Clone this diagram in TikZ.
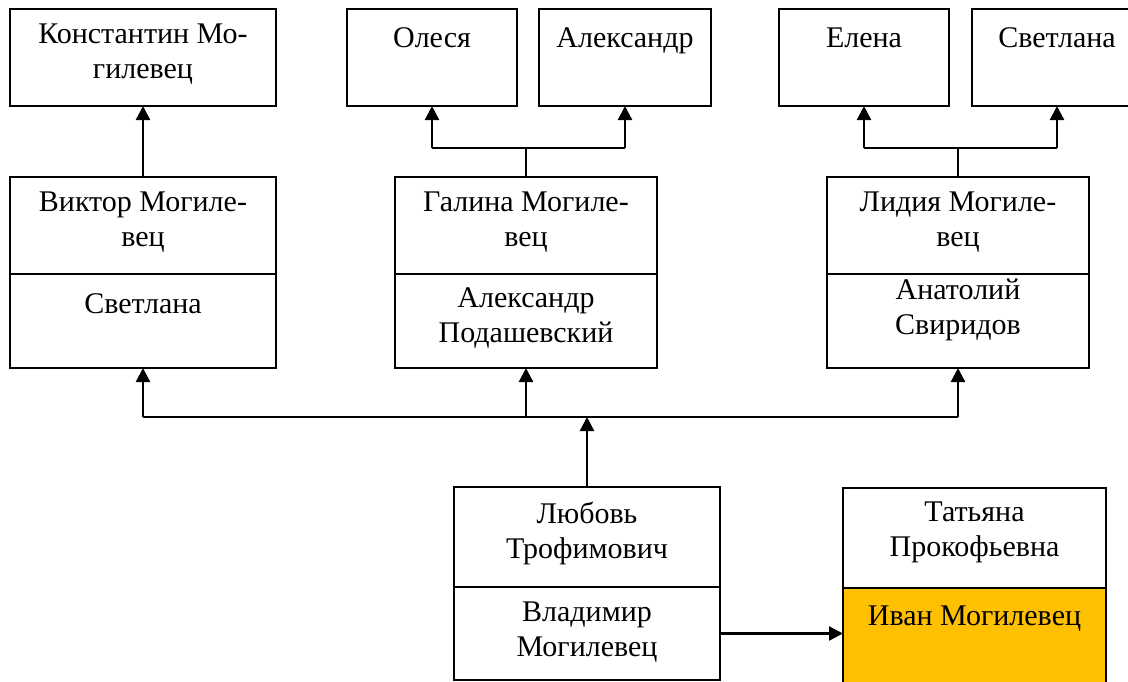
\documentclass[tikz,border=0pt]{standalone}
\usepackage{fontspec}
\setmainfont{Liberation Serif}
\usetikzlibrary{positioning,arrows.meta}
\definecolor{ivanfill}{RGB}{255,192,0}

\tikzset{
  person/.style={draw, line width=2.8pt, outer sep=0pt, inner sep=0pt},
  who/.style={inner sep=0pt, align=center, anchor=north, font=\fontsize{30}{35}\selectfont, execute at begin node=\rule{0pt}{23pt}},
  arrowline/.style={line width=2.3pt},
  joinline/.style={line width=1.8pt}
}

\begin{document}
\begin{tikzpicture}[x=1pt,y=-1pt,>={Triangle[length=14pt,width=14pt]}]
\useasboundingbox (0,0) rectangle (1128,681);

%Kinder oben
\node[person, minimum width=266, minimum height=97] (konst) at (143,57.5) {};
\node[who, below=15pt of konst.north] (konstT) {Константин Мо-\\гилевец};
\node[person, minimum width=170, minimum height=97] (olesya) at (432,57.5) {};
\node[who, below=15pt of olesya.north] (olesyaT) {Олеся};
\node[person, minimum width=172, minimum height=97] (alex) at (625,57.5) {};
\node[who, below=15pt of alex.north] (alexT) {Александр};
\node[person, minimum width=170, minimum height=97] (elena) at (864,57.5) {};
\node[who, below=15pt of elena.north] (elenaT) {Елена};
\node[person, minimum width=170, minimum height=97] (svetB) at (1057,57.5) {};
\node[who, below=15pt of svetB.north] (svetBT) {Светлана};

%Paare mitte
\node[person, minimum width=266, minimum height=97] (viktor) at (143,225.5) {};
\node[person, minimum width=266, minimum height=94, below=0pt of viktor] (svetA) {};
\node[who, below=15pt of viktor.north] (viktorT) {Виктор Могиле-\\вец};
\node[who, below=16pt of svetA.north] (svetAT) {Светлана};

\node[person, minimum width=262, minimum height=97] (galina) at (526,225.5) {};
\node[person, minimum width=262, minimum height=94, below=0pt of galina] (podash) {};
\node[who, below=15pt of galina.north] (galinaT) {Галина Могиле-\\вец};
\node[who, below=13pt of podash.north] (podashT) {Александр\\Подашевский};

\node[person, minimum width=262, minimum height=97] (lidia) at (958,225.5) {};
\node[person, minimum width=262, minimum height=94, below=0pt of lidia] (anatoly) {};
\node[who, below=15pt of lidia.north] (lidiaT) {Лидия Могиле-\\вец};
\node[who, below=5pt of anatoly.north] (anatolyT) {Анатолий\\Свиридов};

%Eltern unten
\node[person, minimum width=266, minimum height=100] (lyubov) at (587,537) {};
\node[person, minimum width=266, minimum height=93, below=0pt of lyubov] (vladimir) {};
\node[who, below=15pt of lyubov.north] (lyubovT) {Любовь\\Трофимович};
\node[who, below=15pt of vladimir.north] (vladimirT) {Владимир\\Могилевец};

\node[person, minimum width=263, minimum height=100] (tatyana) at (974.5,538) {};
\node[person, fill=ivanfill, minimum width=263, minimum height=110, below=0pt of tatyana] (ivan) {};
\node[who, below=14pt of tatyana.north] (tatyanaT) {Татьяна\\Прокофьевна};
\node[who, below=14pt of ivan.north] (ivanT) {Иван Могилевец};

%Verbindungen
\draw[arrowline,->] (viktor.north) -- (konst.south);

\coordinate (gfork) at (526,148);
\draw[joinline] (galina.north) -- (gfork);
\draw[joinline] (gfork -| olesya.south) -- (gfork -| alex.south);
\draw[arrowline,->] (gfork -| olesya.south) -- (olesya.south);
\draw[arrowline,->] (gfork -| alex.south) -- (alex.south);

\coordinate (lfork) at (958,148);
\draw[joinline] (lidia.north) -- (lfork);
\draw[joinline] (lfork -| elena.south) -- (lfork -| svetB.south);
\draw[arrowline,->] (lfork -| elena.south) -- (elena.south);
\draw[arrowline,->] (lfork -| svetB.south) -- (svetB.south);

\coordinate (hub) at (587,417);
\draw[arrowline,->] (lyubov.north) -- (hub);
\draw[arrowline] (hub -| svetA.south) -- (hub -| anatoly.south);
\draw[arrowline,->] (hub -| svetA.south) -- (svetA.south);
\draw[arrowline,->] (hub -| podash.south) -- (podash.south);
\draw[arrowline,->] (hub -| anatoly.south) -- (anatoly.south);

\draw[arrowline,->] (vladimir.east) -- (vladimir.east -| ivan.west);

\end{tikzpicture}
\end{document}
